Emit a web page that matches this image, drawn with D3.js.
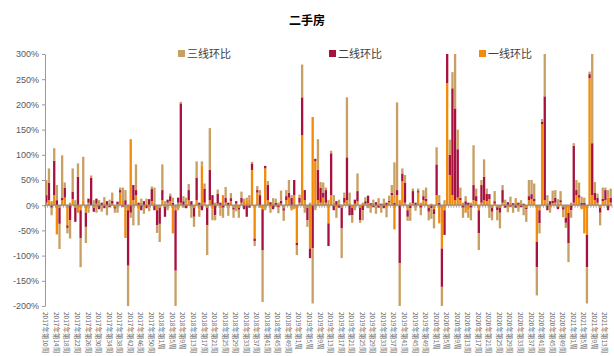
<!DOCTYPE html>
<html>
<head>
<meta charset="utf-8">
<script src="https://cdn.jsdelivr.net/npm/d3@7"></script>
<style>
  body { margin: 0; background: #fff; }
  svg { display: block; font-family: "Noto Sans CJK SC", "Noto Sans", sans-serif; }
</style>
</head>
<body>
<svg id="chart" width="614" height="356"></svg>
<script>
// Weekly periods covered: [year, first week, last week]
const weekRanges = [[2017, 10, 53], [2018, 1, 52], [2019, 1, 52], [2020, 1, 52], [2021, 1, 15]];

// Week-on-week change, %, tier-1 cities
const tier1 = [
  5, 10, 8, 20, -58, -5, 10, 15, -40, 5,
  12, -5, -15, -10, 10, -15, 5, 0, -5, 3,
  2, -3, 4, -2, 5, 3, -4, 2, 25, 10,
  -65, -10, 131, 10, 20, -8, 5, -5, 3, -4,
  8, 5, -10, -5, 10, -3, 5, 8, -56, -10,
  5, 5, -5, 3, 10, -5, -5, 10, -8, 79,
  5, -5, 10, -8, 5, 3, -6, 20, 5, -3,
  8, -5, 3, -5, 5, 8, 10, 12, 70, -66,
  25, -5, -8, 73, 10, -5, 4, -3, 5, 3,
  -6, 10, 15, -10, 20, -75, 5, 139, 10, -5,
  -86, 175, 87, 10, 5, 15, 5, -36, 20, 5,
  -5, 3, -5, 5, 10, 5, -5, 3, 8, -5,
  5, 3, 4, -3, 5, -2, 4, -3, 5, -4,
  6, 20, -48, 20, 10, 48, 5, -10, 5, 4,
  -3, 25, 5, 10, 8, -5, 3, -8, 20, -36,
  -86, -10, 242, 60, 20, 10, 15, 10, 5, -15,
  -10, 5, 10, 8, -10, 5, 10, 8, 12, -5,
  3, -4, -5, 5, 3, -4, 5, -3, 6, -3,
  4, -5, -5, 10, 12, 8, -73, -10, 161, 10,
  5, -5, 4, 5, -3, 6, -4, -25, -15, 5,
  5, 20, 15, -8, -56, -59, 252, 20, 10, 5,
  -5, 8, 10, 15, 5
];

// Week-on-week change, %, tier-2 cities
const tier2 = [
  15, 35, -5, 68, 10, -32, 5, 20, -5, -30,
  15, -28, 56, -55, 0, -28, 8, 54, -8, 10,
  -8, 5, -6, 8, -4, 6, -3, 5, 5, -3,
  10, -110, -15, 30, 10, 5, -10, 8, -6, 12,
  24, -10, -30, -32, 20, -20, 6, 10, 5, -120,
  10, 197, 8, -6, 20, 8, -18, 45, 5, -10,
  28, -35, 60, 20, -20, 20, 5, -5, 10, 5,
  6, -4, 5, -4, 10, -8, -23, -5, 13, -5,
  5, 20, -81, 5, 30, 6, -8, 5, -4, 6,
  -5, 8, 10, 15, 30, -5, 10, 75, 20, -25,
  -19, -85, 5, 60, 30, 10, 25, -45, 83, -10,
  8, -5, -41, 10, 85, -20, -15, 8, 20, -25,
  -10, 5, 15, 4, -4, 6, -5, 3, -6, 5,
  3, 5, 5, 10, -115, 15, 40, -13, -6, 24,
  5, 3, -5, 8, 5, -8, -6, -10, 61, 5,
  -76, -49, 80, 40, 212, 182, 96, 5, -5, 8,
  5, -5, 30, 10, -46, 35, 46, 15, 10, -8,
  5, -6, -10, 25, -5, 6, -3, 4, -5, 5,
  -4, 3, -3, 8, 10, 5, -50, -26, 5, 206,
  -10, 8, 5, 10, -5, 4, -5, -10, -60, -10,
  113, 10, 5, 5, 5, -64, 8, 103, 15, 10,
  -10, 5, 20, -10, 10
];

// Week-on-week change, %, tier-3 cities
const tier3 = [
  30, 28, -15, 25, 30, -50, 84, 10, -11, -36,
  46, 10, 27, -58, 86, -32, -15, 5, 10, -15,
  8, -10, 12, -18, 6, 16, -8, -15, 5, 25,
  20, -100, -10, -40, 51, -32, 8, -12, 10, -8,
  5, 30, -15, -36, 51, 8, -10, 5, 10, -70,
  -10, 3, 10, 12, 12, -20, -20, 32, -15, 8,
  10, -59, 83, -22, -10, 8, -15, -20, 21, -18,
  10, -16, -12, -16, 12, 5, 5, 8, 3, -10,
  8, 10, -103, -10, 8, -10, 10, 8, -12, 20,
  -20, 12, 25, 5, -8, -19, 6, 65, -15, -13,
  5, -110, -10, 61, 11, 20, 5, 10, 5, 15,
  -20, 8, -59, 10, 119, 20, -15, -10, 35, -5,
  -20, 8, -6, -12, 6, -15, 10, -12, 8, -20,
  10, 15, 80, 174, -90, 10, 15, -8, -25, 5,
  -8, 5, -15, 12, 22, -17, -21, -28, 34, 15,
  -60, 10, 0, 30, 32, 130, 39, 20, -20, 10,
  -15, -25, 79, 15, -33, 10, 35, 10, -25, -17,
  20, -20, -31, 10, 8, -10, 12, -12, 8, -10,
  6, -15, -25, 32, 28, 30, -56, -20, 5, 120,
  15, -10, 20, 15, 12, 18, -15, -10, -38, -15,
  5, 20, 25, 12, 10, -72, 5, 200, 21, 8,
  -25, 22, 5, 15, 18
];

const seriesNames = ["三线环比", "二线环比", "一线环比"];
const seriesColors = { "一线环比": "#f28a0a", "二线环比": "#a6123d", "三线环比": "#c9a064" };
const yTicks = [-200, -150, -100, -50, 0, 50, 100, 150, 200, 250, 300];
const titleText = "二手房";

const categories = weekRanges.flatMap(([yr, a, b]) =>
  d3.range(a, b + 1).map(w => `${yr}年第${w}周`));
const tickLabels = categories.filter((d, i) => i % 4 === 0);

const rows = categories.map((c, i) => ({
  cat: c, "一线环比": tier1[i], "二线环比": tier2[i], "三线环比": tier3[i]
}));

const svg = d3.select("#chart");
const plotL = 45, plotR = 612, plotT = 54, plotB = 306;

const x = d3.scaleBand().domain(categories).range([plotL, plotR])
  .paddingInner(0.12).paddingOuter(0.06);
const y = d3.scaleLinear().domain([-200, 300]).range([plotB, plotT]);

// Stacked columns: tier-1 at the base, then tier-2, then tier-3
const stack = d3.stack()
  .keys(["一线环比", "二线环比", "三线环比"])
  .offset(d3.stackOffsetDiverging);
const layers = stack(rows);

svg.append("defs").append("clipPath").attr("id", "plot")
  .append("rect").attr("x", plotL).attr("y", plotT)
  .attr("width", plotR - plotL).attr("height", plotB - plotT);

const g = svg.append("g").attr("clip-path", "url(#plot)");
g.selectAll("g.layer").data(layers).join("g")
  .attr("class", "layer")
  .attr("fill", d => seriesColors[d.key])
  .selectAll("rect").data(d => d).join("rect")
  .attr("x", d => x(d.data.cat))
  .attr("width", x.bandwidth())
  .attr("y", d => y(Math.max(d[0], d[1])))
  .attr("height", d => Math.abs(y(d[0]) - y(d[1])));

// Y axis
const yAxis = svg.append("g").attr("transform", `translate(${plotL},0)`)
  .call(d3.axisLeft(y).tickValues(yTicks).tickSize(3).tickSizeOuter(0)
    .tickFormat(d => d + "%"));
yAxis.select(".domain").attr("stroke", "#9a9a9a");
yAxis.selectAll(".tick line").attr("stroke", "#9a9a9a");
yAxis.selectAll(".tick text").attr("fill", "#595959")
  .style("font-family", "'Liberation Sans', Arial, sans-serif").style("font-size", "9px");

// Category axis along zero, with a tick at every category boundary
const y0 = y(0);
svg.append("line").attr("x1", plotL).attr("x2", plotR).attr("y1", y0).attr("y2", y0)
  .attr("stroke", "#8c8c8c").attr("stroke-width", 1.2);
const step = x.step();
svg.append("g").selectAll("line").data(d3.range(categories.length + 1)).join("line")
  .attr("x1", i => plotL + i * step).attr("x2", i => plotL + i * step)
  .attr("y1", y0).attr("y2", y0 + 2.5)
  .attr("stroke", "#8c8c8c").attr("stroke-width", 0.8);

// Category labels at the bottom, every fourth week
svg.append("g").selectAll("text").data(tickLabels).join("text")
  .attr("transform", d => `translate(${x(d) + x.bandwidth() / 2},312) rotate(90)`)
  .attr("dominant-baseline", "central")
  .attr("fill", "#666")
  .style("font-size", "6.5px")
  .text(d => d);

// Title
svg.append("text").attr("x", 307).attr("y", 25).attr("text-anchor", "middle")
  .style("font-size", "12px").style("font-weight", "bold").attr("fill", "#000")
  .text(titleText);

// Legend
const legendX = [178, 329, 479];
const lg = svg.append("g").selectAll("g").data(seriesNames).join("g")
  .attr("transform", (d, i) => `translate(${legendX[i]},50)`);
lg.append("rect").attr("width", 7).attr("height", 7).attr("fill", d => seriesColors[d]);
lg.append("text").attr("x", 9).attr("y", 7.5).attr("fill", "#404040")
  .style("font-size", "11px").text(d => d);
</script>
</body>
</html>
